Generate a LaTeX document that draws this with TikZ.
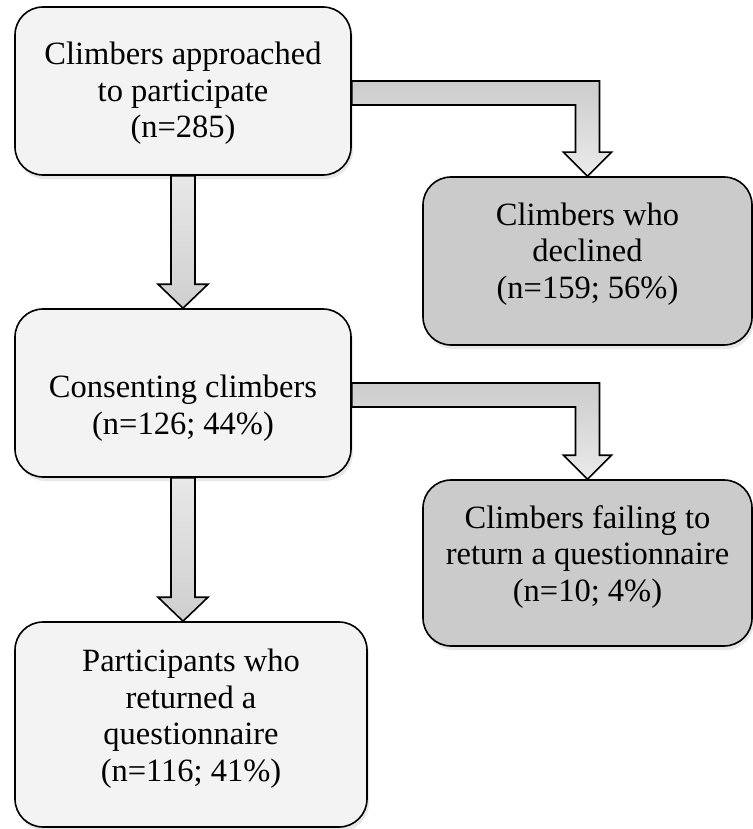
\documentclass[tikz,border=0pt]{standalone}
\usepackage{fontspec}
\setmainfont{Liberation Serif}
\usepackage{xcolor}
\usepackage{tikz}
\usetikzlibrary{positioning, arrows.meta}
\usetikzlibrary{calc, shadows}

\definecolor{boxlight}{HTML}{F3F3F3}
\definecolor{boxdark}{HTML}{CBCBCB}

\begin{document}
\begin{tikzpicture}[
        x=1pt, y=-1pt,
        font=\fontsize{32.5}{36.5}\selectfont,
        mainbox/.style={rectangle, rounded corners=28pt, minimum width=336pt, minimum height=168pt, align=center, text depth=0pt, draw=black, line width=1.6pt, fill=boxlight, drop shadow={opacity=0.18, shadow xshift=2pt, shadow yshift=-4pt}},
        sidebox/.style={mainbox, minimum width=329pt, fill=boxdark},
        downarrow/.style={draw=black, line width=1.6pt, top color=black!9, bottom color=black!19},
        elbowarrow/.style={draw=black, line width=1.6pt, top color=black!20, bottom color=black!8}
    ]
        \useasboundingbox (0,0) rectangle (752,829);

        % ===== 主流程 =====
        \node (approached) [mainbox, text height=94pt] at (183,91) {Climbers approached\\to participate\\(n=285)};
        \node (consenting) [mainbox, text height=82pt] at (183,393) {Consenting climbers\\(n=126; 44\%)};
        \node (returned) [mainbox, minimum width=352pt, minimum height=205pt, text height=113pt] at (191,724.5) {Participants who\\returned a\\questionnaire\\(n=116; 41\%)};

        % ===== 退出 =====
        \node (declined) [sidebox, text height=74pt] at (587.5,261) {Climbers who\\declined\\(n=159; 56\%)};
        \node (failing) [sidebox, minimum height=166pt, text height=76pt] at (587.5,563) {Climbers failing to\\return a questionnaire\\(n=10; 4\%)};

        \coordinate (returnedTop) at (consenting.south |- returned.north);

        % ===== 箭头 =====
        % 向下
        \draw [downarrow] ($(approached.south)+(-12,0)$) -- ($(consenting.north)+(-12,-24)$) -- ++(-13,0)
            -- (consenting.north) -- ++(25,-24) -- ++(-13,0) -- ($(approached.south)+(12,0)$) -- cycle;
        \draw [downarrow] ($(consenting.south)+(-12,0)$) -- ($(returnedTop)+(-12,-24)$) -- ++(-13,0)
            -- (returnedTop) -- ++(25,-24) -- ++(-13,0) -- ($(consenting.south)+(12,0)$) -- cycle;

        % 向右再向下
        \draw [elbowarrow] ($(approached.east)+(0,-10)$) -| ($(declined.north)+(12,-24)$) -- ++(12,0)
            -- (declined.north) -- ++(-24,-24) -- ++(12,0) |- ($(approached.east)+(0,14)$) -- cycle;
        \draw [elbowarrow] ($(consenting.east)+(0,-10)$) -| ($(failing.north)+(12,-24)$) -- ++(12,0)
            -- (failing.north) -- ++(-24,-24) -- ++(12,0) |- ($(consenting.east)+(0,14)$) -- cycle;

    \end{tikzpicture}
\end{document}
